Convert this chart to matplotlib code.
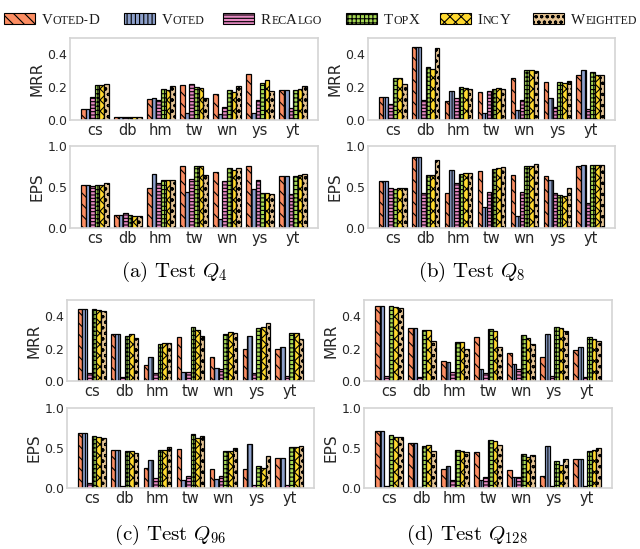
import matplotlib
matplotlib.use('Agg')
import numpy as np
import matplotlib.pyplot as plt
from matplotlib.patches import Rectangle

plt.rcParams.update({
    'font.family': 'DejaVu Sans',
    'mathtext.fontset': 'cm',
    'hatch.linewidth': 0.8,
    'axes.edgecolor': '#d4d4d4',
    'axes.linewidth': 1.2,
    'xtick.color': '#262626',
    'ytick.color': '#262626',
    'axes.labelcolor': '#262626',
})

W, H = 640, 549

datasets = ['cs', 'db', 'hm', 'tw', 'wn', 'ys', 'yt']
methods = ['Voted-D', 'Voted', 'RecAlgo', 'TopX', 'IncY', 'Weighted']
colors = ['#fc8d62', '#8da0cb', '#e78ac3', '#a6d854', '#ffd92f', '#e5c494']
hatches = ['\\\\\\', '||||', '-----', '++++', 'xxx', 'ooo']

# rows = datasets, columns = methods (Voted-D, Voted, RecAlgo, TopX, IncY, Weighted)
q4_mrr = [[0.068, 0.068, 0.140, 0.213, 0.213, 0.220],
          [0.020, 0.020, 0.020, 0.020, 0.020, 0.020],
          [0.127, 0.135, 0.123, 0.190, 0.180, 0.207],
          [0.213, 0.045, 0.220, 0.203, 0.193, 0.133],
          [0.158, 0.037, 0.078, 0.183, 0.168, 0.207],
          [0.279, 0.045, 0.125, 0.226, 0.244, 0.176],
          [0.183, 0.183, 0.072, 0.183, 0.189, 0.205]]
q4_eps = [[0.528, 0.528, 0.508, 0.524, 0.520, 0.553],
          [0.163, 0.163, 0.179, 0.154, 0.150, 0.146],
          [0.492, 0.663, 0.553, 0.589, 0.589, 0.589],
          [0.760, 0.443, 0.600, 0.752, 0.752, 0.646],
          [0.687, 0.114, 0.573, 0.728, 0.703, 0.736],
          [0.760, 0.480, 0.585, 0.423, 0.423, 0.410],
          [0.638, 0.638, 0.410, 0.638, 0.642, 0.663]]

q8_mrr = [[0.140, 0.140, 0.098, 0.256, 0.256, 0.222],
          [0.447, 0.447, 0.125, 0.326, 0.312, 0.437],
          [0.117, 0.178, 0.133, 0.201, 0.197, 0.187],
          [0.170, 0.041, 0.178, 0.189, 0.193, 0.189],
          [0.256, 0.062, 0.119, 0.306, 0.302, 0.297],
          [0.232, 0.135, 0.078, 0.232, 0.226, 0.238],
          [0.273, 0.302, 0.070, 0.293, 0.275, 0.275]]
q8_eps = [[0.569, 0.569, 0.492, 0.480, 0.492, 0.492],
          [0.862, 0.862, 0.431, 0.642, 0.642, 0.833],
          [0.431, 0.711, 0.549, 0.663, 0.671, 0.671],
          [0.699, 0.252, 0.439, 0.715, 0.728, 0.740],
          [0.646, 0.150, 0.435, 0.756, 0.760, 0.776],
          [0.630, 0.581, 0.427, 0.407, 0.394, 0.484],
          [0.756, 0.764, 0.309, 0.772, 0.768, 0.764]]

q96_mrr = [[0.446, 0.446, 0.048, 0.446, 0.437, 0.431],
           [0.290, 0.290, 0.025, 0.280, 0.290, 0.265],
           [0.097, 0.151, 0.048, 0.228, 0.234, 0.234],
           [0.272, 0.058, 0.058, 0.334, 0.317, 0.280],
           [0.147, 0.079, 0.075, 0.290, 0.300, 0.296],
           [0.199, 0.280, 0.052, 0.330, 0.336, 0.359],
           [0.199, 0.209, 0.033, 0.296, 0.296, 0.259]]
q96_eps = [[0.690, 0.690, 0.062, 0.645, 0.632, 0.628],
           [0.475, 0.475, 0.025, 0.459, 0.463, 0.438],
           [0.248, 0.347, 0.124, 0.471, 0.479, 0.508],
           [0.483, 0.099, 0.145, 0.669, 0.620, 0.645],
           [0.236, 0.112, 0.145, 0.459, 0.459, 0.500],
           [0.236, 0.554, 0.037, 0.277, 0.256, 0.400],
           [0.376, 0.372, 0.033, 0.512, 0.508, 0.525]]

q128_mrr = [[0.460, 0.460, 0.031, 0.464, 0.458, 0.452],
            [0.327, 0.327, 0.023, 0.313, 0.315, 0.249],
            [0.124, 0.116, 0.058, 0.240, 0.238, 0.199],
            [0.272, 0.073, 0.052, 0.323, 0.309, 0.209],
            [0.172, 0.104, 0.077, 0.282, 0.265, 0.228],
            [0.151, 0.292, 0.033, 0.334, 0.325, 0.307],
            [0.193, 0.209, 0.027, 0.272, 0.259, 0.245]]
q128_eps = [[0.711, 0.711, 0.025, 0.657, 0.640, 0.640],
            [0.558, 0.558, 0.012, 0.529, 0.533, 0.463],
            [0.240, 0.273, 0.095, 0.475, 0.459, 0.446],
            [0.455, 0.095, 0.132, 0.603, 0.591, 0.541],
            [0.223, 0.132, 0.140, 0.421, 0.384, 0.409],
            [0.153, 0.521, 0.021, 0.335, 0.285, 0.368],
            [0.368, 0.368, 0.025, 0.467, 0.471, 0.496]]

captions = [r'(a) Test $Q_{4}$', r'(b) Test $Q_{8}$',
            r'(c) Test $Q_{96}$', r'(d) Test $Q_{128}$']

# pixel boxes: (left, top, right, bottom) for MRR and EPS axes, caption centre
layout = [
    ((70, 38, 318, 120), (70, 146, 318, 228), (174, 272)),
    ((368, 38, 615, 120), (368, 146, 615, 228), (472, 272)),
    ((67, 300, 314, 381), (67, 408, 314, 488), (170, 535)),
    ((364, 300, 612, 381), (364, 408, 612, 488), (467, 535)),
]
panel_data = [(q4_mrr, q4_eps), (q8_mrr, q8_eps),
              (q96_mrr, q96_eps), (q128_mrr, q128_eps)]

fig = plt.figure(figsize=(W / 100, H / 100), dpi=100)


def add_ax(box):
    l, t, r, b = box
    return fig.add_axes([l / W, 1 - b / H, (r - l) / W, (b - t) / H])


def draw_bars(ax, values, ymax, yticks, ylabel):
    vals = np.array(values).T
    x = np.arange(len(datasets))
    bw = 0.14
    for i, m in enumerate(methods):
        ax.bar(x + (i - 2.5) * bw, vals[i], bw, color=colors[i],
               edgecolor='black', linewidth=0.9, hatch=hatches[i], zorder=2)
    ax.set_xlim(-0.75, 6.75)
    ax.set_ylim(0, ymax)
    ax.set_yticks(yticks)
    ax.set_xticks(x)
    ax.set_xticklabels(datasets, fontsize=10.5)
    ax.tick_params(axis='y', labelsize=9, length=0, pad=2)
    ax.tick_params(axis='x', length=0, pad=2)
    ax.set_ylabel(ylabel, fontsize=11, labelpad=2)


for (mbox, ebox, cap), (mrr, eps), txt in zip(layout, panel_data, captions):
    ax1 = add_ax(mbox)
    draw_bars(ax1, mrr, 0.5, [0.0, 0.2, 0.4], 'MRR')
    ax2 = add_ax(ebox)
    draw_bars(ax2, eps, 1.0, [0.0, 0.5, 1.0], 'EPS')
    fig.text(cap[0] / W, 1 - cap[1] / H, txt, family='cmr10', fontsize=15,
             ha='center', va='center')

# legend with fake small caps
renderer = fig.canvas.get_renderer()
patch_starts = [4, 124, 223, 346, 440, 533]
for i, m in enumerate(methods):
    p0 = patch_starts[i]
    fig.add_artist(Rectangle((p0 / W, 1 - 24 / H), 31 / W, 11 / H,
                             transform=fig.transFigure, facecolor=colors[i],
                             edgecolor='black', linewidth=0.8, hatch=hatches[i]))
    runs = []
    for ch in m:
        up = ch.isupper()
        if runs and runs[-1][1] == up:
            runs[-1][0] += ch
        else:
            runs.append([ch, up])
    x = p0 + 38
    for s, up in runs:
        t = fig.text(x / W, 1 - 24 / H, s if up else s.upper(),
                     family='Liberation Serif', fontsize=10.8 if up else 8.6,
                     va='baseline', ha='left', color='#1a1a1a')
        x += t.get_window_extent(renderer).width

fig.savefig('out.png', dpi=100)
